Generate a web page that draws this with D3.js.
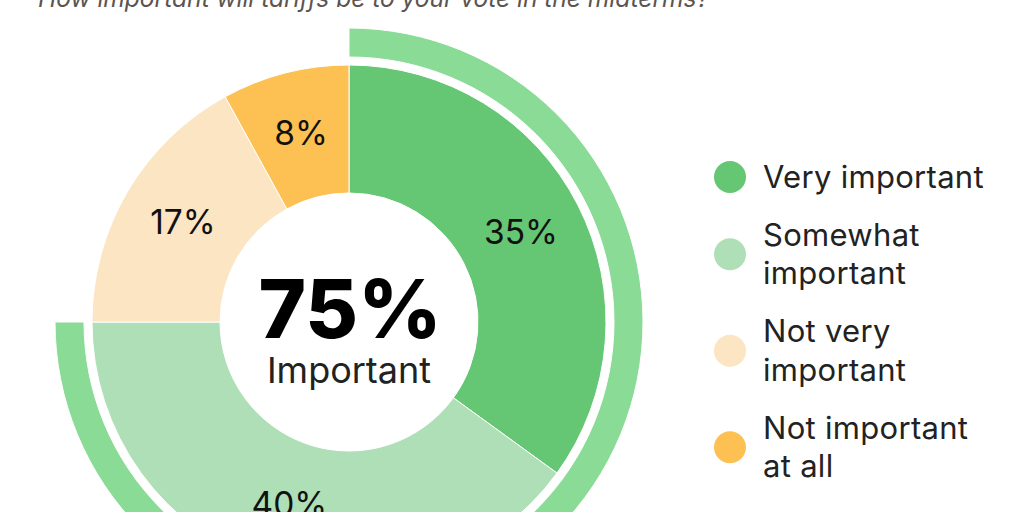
<!DOCTYPE html>
<html>
<head>
<meta charset="utf-8">
<script src="https://cdn.jsdelivr.net/npm/d3@7"></script>
<style>
  html, body { margin: 0; padding: 0; background: #fff; }
  svg { display: block; font-family: Inter, "Noto Sans", sans-serif; }
</style>
</head>
<body>
<svg id="chart" width="1024" height="512"></svg>
<script>
// ---- data ----
const title = "How important will tariffs be to your vote in the midterms?";
const categories = ["Very important", "Somewhat important", "Not very important", "Not important at all"];
const legendLines = [["Very important"], ["Somewhat", "important"], ["Not very", "important"], ["Not important", "at all"]];
const values = [35, 40, 17, 8];
const colors = ["#65c774", "#afdfb6", "#fce5c2", "#fdc153"];
const importantShare = 75;
const centerLabel = "Important";
const ringColor = "#8adb95";

// ---- layout ----
const svg = d3.select("#chart");
const cx = 349, cy = 322;
const rInner = 129, rOuter = 257, ringIn = 265, ringOut = 294;

svg.append("text")
  .attr("x", 38).attr("y", 7)
  .attr("font-size", 24.5).attr("font-style", "italic")
  .attr("fill", "#5c5450")
  .text(title);

const g = svg.append("g").attr("transform", `translate(${cx},${cy})`);

const pie = d3.pie().sort(null).value(d => d);
const arcs = pie(values);
const arc = d3.arc().innerRadius(rInner).outerRadius(rOuter);

// outer ring for "important" share
const ringScale = d3.scaleLinear().domain([0, 100]).range([0, 2 * Math.PI]);
g.append("path")
  .attr("d", d3.arc().innerRadius(ringIn).outerRadius(ringOut)
    .startAngle(0).endAngle(ringScale(importantShare))())
  .attr("fill", ringColor)
  .attr("stroke", "#fff").attr("stroke-width", 1);

g.selectAll("path.slice").data(arcs).enter().append("path")
  .attr("class", "slice")
  .attr("d", arc)
  .attr("fill", (d, i) => colors[i])
  .attr("stroke", "#fff").attr("stroke-width", 1);

g.selectAll("text.pct").data(arcs).enter().append("text")
  .attr("class", "pct")
  .attr("transform", d => { const c = arc.centroid(d); return `translate(${c[0]},${c[1] - 2})`; })
  .attr("text-anchor", "middle")
  .attr("dominant-baseline", "central")
  .attr("font-size", 33.5)
  .attr("fill", "#111")
  .text(d => d.data + "%");

g.append("text")
  .attr("x", 1).attr("y", 16)
  .attr("text-anchor", "middle")
  .attr("font-size", 81).attr("font-weight", 800)
  .attr("fill", "#000")
  .text(importantShare + "%");

g.append("text")
  .attr("x", 0).attr("y", 61)
  .attr("text-anchor", "middle")
  .attr("font-size", 36)
  .attr("fill", "#222")
  .text(centerLabel);

// legend (stacked items, each as tall as its lines)
const lh = 38.5, gap = 19.5;
let yCursor = 177 - lh / 2;
const legendCenters = legendLines.map(lines => {
  const h = lines.length * lh;
  const c = yCursor + h / 2;
  yCursor += h + gap;
  return c;
});
const lg = svg.append("g");
const items = lg.selectAll("g").data(categories).enter().append("g")
  .attr("transform", (d, i) => `translate(730,${legendCenters[i]})`);
items.append("circle").attr("r", 16).attr("fill", (d, i) => colors[i]);
items.each(function(d, i) {
  const lines = legendLines[i];
  const t = d3.select(this).append("text")
    .attr("x", 33)
    .attr("font-size", 31)
    .attr("letter-spacing", 0.3)
    .attr("fill", "#222");
  const y0 = 10.5 - (lines.length - 1) * lh / 2;
  lines.forEach((ln, j) => {
    t.append("tspan").attr("x", 33).attr("y", y0 + j * lh).text(ln);
  });
});
</script>
</body>
</html>
